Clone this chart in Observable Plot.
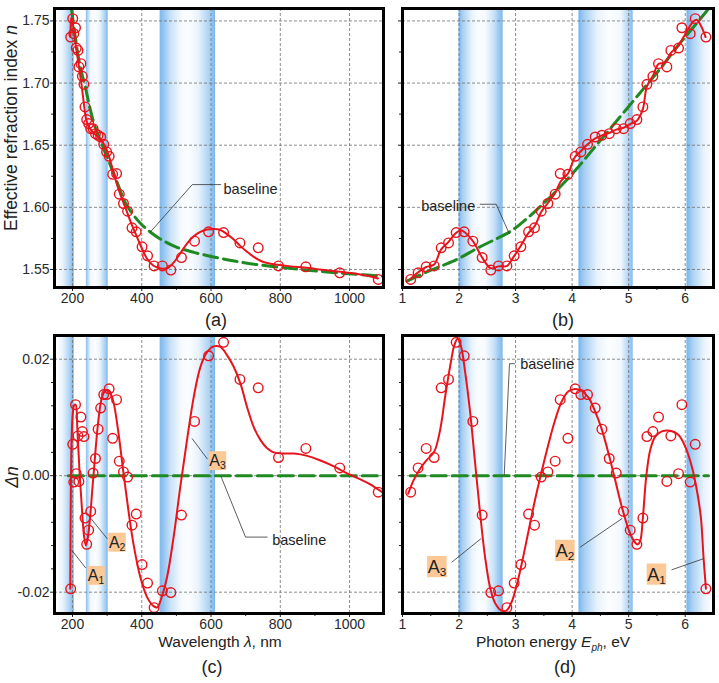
<!DOCTYPE html>
<html>
<head>
<meta charset="utf-8">
<script src="https://cdn.jsdelivr.net/npm/d3@7"></script>
<script src="https://cdn.jsdelivr.net/npm/@observablehq/plot@0.6"></script>
<style>
  html, body { margin: 0; padding: 0; background: #fff; }
  #fig { position: relative; width: 719px; height: 683px; overflow: hidden; font-family: "Liberation Sans", Arial, Helvetica, sans-serif; color: #222; }
  .panel { position: absolute; }
  .panel svg { display: block; }
  .lbl { position: absolute; white-space: nowrap; line-height: 1; transform: translate(-50%, -50%); }
  .rot { transform: translate(-50%, -50%) rotate(-90deg); }
  .cap { font-size: 18px; }
  .ttl { font-size: 15.5px; }
  .ytl { font-size: 17.5px; }
  .sub { font-size: 10px; position: relative; top: 4px; }
</style>
</head>
<body>
<div id="fig"></div>
<script>
// ---------------- data ----------------
// measured points: photon energy (eV), effective index n, deviation Δn
const ptE = [1.145,1.276,1.419,1.560,1.684,1.814,1.949,2.091,2.244,2.409,2.562,2.698,2.846,2.975,3.093,3.229,3.335,3.453,3.571,3.700,3.789,3.925,4.054,4.154,4.272,4.408,4.526,4.656,4.780,4.909,5.027,5.145,5.251,5.322,5.428,5.528,5.675,5.746,5.882,5.941,6.088,6.177,6.366];
const ptN = [1.542,1.5473,1.5521,1.5529,1.5674,1.5714,1.5797,1.5803,1.5728,1.5596,1.5495,1.5529,1.5529,1.561,1.5682,1.5803,1.5835,1.5969,1.6031,1.6106,1.6272,1.6266,1.6411,1.6446,1.6507,1.6566,1.658,1.6593,1.6633,1.6633,1.6674,1.6706,1.6808,1.699,1.7054,1.7156,1.713,1.7263,1.7282,1.7445,1.7397,1.7518,1.737];
const ptDn = [-0.00283,0.00133,0.00468,0.00312,0.01509,0.01653,0.02289,0.02058,0.00931,-0.00676,-0.02006,-0.01977,-0.02266,-0.01844,-0.01526,-0.00659,-0.0085,-0.00023,0.00064,0.00249,0.01306,0.00642,0.01491,0.01393,0.01393,0.01162,0.00798,0.00295,0.00046,-0.00613,-0.00936,-0.01179,-0.00728,0.00671,0.00757,0.01006,-0.00098,0.00682,0.00035,0.0122,-0.0011,0.00538,-0.01942];

// (a) fitted n(λ) and baseline
const fitA_L = [194,196.5,199.5,204,210.6,218,226,233,239.5,247,261.6,276,290.4,303,314.7,326,338.6,353,371.6,386,400.5,415,434,455,474,492,511,530.6,550,569,588.4,608,627,646,665.5,684.8,704,723.4,742.7,762,792,830,870,920,966,1020,1082];
const fitA_n = [1.737,1.7525,1.7505,1.741,1.728,1.7145,1.699,1.683,1.6705,1.665,1.6596,1.6562,1.651,1.643,1.632,1.6207,1.61,1.5995,1.5856,1.5763,1.5669,1.5588,1.553,1.5508,1.551,1.5555,1.5629,1.5709,1.5768,1.5803,1.5822,1.5826,1.5818,1.5784,1.5741,1.5688,1.5642,1.5602,1.557,1.5552,1.5538,1.5525,1.5515,1.5498,1.5483,1.5465,1.5428];
const baseA_L = [197,209,223,236,251,266,286,305,329,352,370,400,430,460,500,550,600,650,700,760,820,880,950,1020,1098];
const baseA_n = [1.76,1.735,1.712,1.698,1.679,1.664,1.65,1.637,1.62,1.604,1.596,1.586,1.579,1.5735,1.568,1.5638,1.5605,1.5577,1.5552,1.553,1.5511,1.5494,1.5476,1.5461,1.5446];

// (b) fitted n(E) and baseline
const fitB_E = [1.145,1.27,1.42,1.56,1.68,1.81,1.95,2.03,2.1,2.25,2.41,2.56,2.70,2.85,2.97,3.09,3.23,3.34,3.45,3.57,3.70,3.80,3.93,4.05,4.15,4.27,4.41,4.53,4.66,4.78,4.91,5.03,5.15,5.25,5.32,5.43,5.53,5.64,5.75,5.88,5.97,6.06,6.13,6.2,6.28,6.36];
const fitB_n = [1.5425,1.5475,1.552,1.554,1.566,1.572,1.5795,1.5815,1.58,1.5725,1.5595,1.551,1.5525,1.553,1.5605,1.569,1.5795,1.585,1.596,1.6035,1.6115,1.621,1.6275,1.6405,1.645,1.6505,1.6555,1.658,1.66,1.6625,1.664,1.667,1.670,1.679,1.697,1.706,1.7155,1.7165,1.7245,1.730,1.737,1.744,1.749,1.751,1.746,1.737];
const baseB_E = [1.08,1.43,1.725,2.0,2.315,2.61,2.905,3.2,3.494,3.789,4.084,4.379,4.673,4.968,5.263,5.558,5.853,6.147,6.413];
const baseB_n = [1.5406,1.5481,1.5535,1.559,1.5669,1.5736,1.5805,1.591,1.6031,1.6165,1.6312,1.6473,1.6633,1.6794,1.6955,1.7116,1.729,1.7451,1.7598];

// (c) fitted Δn(λ)
const fitC_L = [193.5,195,197.5,201,205,209,214,220,227,233,238.5,244,251,257,263.6,270,277,284,292,300,306,313,320,333,347.5,362,376,395.7,415,434,445,455,473,492,511,530.6,550,569,588.4,608,627,646,665.5,685,704,723,743,762,781,810,840,878,916,955,993,1030,1060,1098];
const fitC_dn = [-0.0194,-0.004,0.0065,0.0108,0.0121,0.0122,0.008,0.001,-0.0055,-0.0102,-0.012,-0.0107,-0.007,-0.0025,0.0022,0.0068,0.0106,0.0132,0.0144,0.0147,0.0145,0.0137,0.0122,0.0072,0.0003,-0.0062,-0.0117,-0.0174,-0.0208,-0.0224,-0.0226,-0.0213,-0.0174,-0.0105,-0.002,0.0061,0.0135,0.0186,0.0212,0.0222,0.0221,0.0207,0.0187,0.0158,0.0118,0.0084,0.0061,0.0047,0.004,0.0038,0.0038,0.0034,0.0026,0.0016,0.0004,-0.0006,-0.0015,-0.003];
const baseC_L = [188,1098], baseC_dn = [0,0];

// (d) fitted Δn(E)
const fitD_E = [1.10,1.195,1.312,1.43,1.56,1.666,1.755,1.843,1.914,1.973,2.032,2.109,2.197,2.285,2.374,2.462,2.551,2.639,2.757,2.846,2.934,3.022,3.111,3.229,3.347,3.465,3.583,3.70,3.818,3.936,4.054,4.172,4.29,4.408,4.526,4.644,4.762,4.88,4.998,5.086,5.157,5.204,5.251,5.31,5.381,5.469,5.587,5.735,5.882,6.0,6.118,6.206,6.277,6.324,6.366];
const fitD_dn = [-0.0031,-0.0008,0.0012,0.0027,0.0041,0.0079,0.0136,0.0188,0.0223,0.0235,0.0223,0.0177,0.0108,0.0021,-0.0066,-0.0141,-0.0193,-0.0219,-0.0232,-0.0231,-0.0216,-0.0187,-0.015,-0.0095,-0.004,0.0009,0.0055,0.0096,0.0128,0.0145,0.0149,0.0145,0.0134,0.011,0.0079,0.0038,-0.0008,-0.0054,-0.0092,-0.0111,-0.0118,-0.0112,-0.0072,-0.0002,0.0044,0.0067,0.0076,0.0077,0.007,0.005,0.0015,-0.0025,-0.0072,-0.0141,-0.0194];
const baseD_E = [1.136,6.41], baseD_dn = [0,0];

// absorption bands
const bandE_lo = [2.0, 4.12, 6.03], bandE_hi = [2.78, 5.08, 6.47];
const bandL_lo = [160, 240, 453], bandL_hi = [205, 303, 613];

// ticks
const tickL = [200,400,600,800,1000], tickLminor = [300,500,700,900];
const tickE = [1,2,3,4,5,6], tickEminor = [1.5,2.5,3.5,4.5,5.5];
const gridE = [2,3,4,5,6];
const tickN = [1.55,1.60,1.65,1.70,1.75], tickNminor = [1.575,1.625,1.675,1.725];
const tickDn = [-0.02,0,0.02], tickDnMinor = [-0.016,-0.012,-0.008,-0.004,0.004,0.008,0.012,0.016];

// annotations
const annA_txt = ["baseline"], annA_x = [636], annA_y = [1.6145];
const leadA_x = [628,545.7,425], leadA_y = [1.6183,1.6183,1.5802];
const annB_txt = ["baseline"], annB_x = [2.286], annB_y = [1.6011];
const leadB_x = [2.374,2.657,2.887], leadB_y = [1.6025,1.6025,1.5789];
const annC_txt = ["baseline"], annC_x = [776.7], annC_y = [-0.01116];
const leadC_x = [762,699.6,629.5], leadC_y = [-0.01054,-0.01054,-0.00024];
const annD_txt = ["baseline"], annD_x = [3.082], annD_y = [0.01906];
const leadD_x = [2.981,2.892,2.799], leadD_y = [0.01923,0.01923,0.00017];
const labC_x = [269,330,620], labC_y = [-0.0172,-0.0115,0.0025], labC_sub = ["1","2","3"];
const labC_lead = [[[237.5,198],[-0.0158,-0.0128]], [[300,254],[-0.0108,-0.0074]], [[589,545.7],[0.0029,0.00635]]];
const labD_x = [5.499,3.881,1.617], labD_y = [-0.01698,-0.01291,-0.01569], labD_sub = ["1","2","3"];
const labD_lead = [[[5.765,6.324],[-0.01614,-0.01425]], [[4.143,4.88],[-0.01226,-0.00738]], [[1.874,2.387],[-0.01483,-0.01082]]];

// ---------------- styling ----------------
const RED = "#e8141c", GREEN = "#1f8a22", BAND = "#66acea", GRID = "#707070", INK = "#222";
const FONT = '"Liberation Sans", Arial, Helvetica, sans-serif';
const HC = 1239.84;
const ptL = ptE.map(e => HC / e);

const stopsE = [
  [[0,0.9],[0.08,0.6],[0.3,0.15],[0.45,0.03],[0.6,0.05],[0.8,0.35],[0.93,0.7],[1,0.85]],
  [[0,0.9],[0.1,0.6],[0.35,0.15],[0.55,0.02],[0.78,0.08],[0.9,0.45],[1,0.8]],
  [[0,0.9],[0.25,0.55],[0.7,0.15],[1,0.03]]
];
const stopsL = [
  [[0,0.03],[0.3,0.15],[0.75,0.55],[1,0.9]],
  [[0,0.8],[0.1,0.45],[0.22,0.08],[0.45,0.02],[0.65,0.15],[0.9,0.6],[1,0.9]],
  [[0,0.85],[0.07,0.7],[0.2,0.35],[0.4,0.05],[0.55,0.03],[0.7,0.15],[0.92,0.6],[1,0.9]]
];

function gradient(id, stops) {
  return () => {
    const defs = d3.create("svg:defs");
    const g = defs.append("linearGradient").attr("id", id)
      .attr("x1", 0).attr("x2", 1).attr("y1", 0).attr("y2", 0);
    for (const [o, a] of stops) g.append("stop").attr("offset", o).attr("stop-color", BAND).attr("stop-opacity", a);
    return defs.node();
  };
}
function bands(prefix, lo, hi, stops) {
  const m = [];
  lo.forEach((l, i) => {
    const id = prefix + i;
    m.push(gradient(id, stops[i]));
    m.push(Plot.rect([0], {x1: [l], x2: [hi[i]], fill: `url(#${id})`}));
  });
  return m;
}
function boxLabels(xs, ys, subs, fs) {
  return (index, scales) => {
    const g = d3.create("svg:g").attr("font-family", FONT).attr("text-anchor", "start");
    xs.forEach((xv, i) => {
      const cx = scales.x(xv), cy = scales.y(ys[i]);
      const w = 1.03 * fs + 1, h = 1.18 * fs;
      g.append("rect").attr("x", cx - w / 2).attr("y", cy - h / 2)
        .attr("width", w).attr("height", h).attr("fill", "#fbc896");
      const t = g.append("text").attr("x", cx - w / 2 + 0.6).attr("y", cy + 0.36 * fs)
        .attr("font-size", fs).attr("fill", INK).attr("text-anchor", "start");
      t.append("tspan").text("A");
      t.append("tspan").attr("font-size", 0.65 * fs).attr("dy", 0.17 * fs).text(subs[i]);
    });
    return g.node();
  };
}
const lead = (xs, ys) => Plot.line(xs, {x: xs, y: ys, stroke: "#333", strokeWidth: 0.8});
const gridOpts = {stroke: GRID, strokeOpacity: 1, strokeWidth: 0.8, strokeDasharray: "3,2"};
const axisFont = {fontSize: 14, fill: "#2a2a2a"};

const fig = document.getElementById("fig");
function panel(left, top, w, h, m, xd, yd, marks) {
  const svg = Plot.plot({
    width: w, height: h,
    marginLeft: m[0], marginRight: m[1], marginTop: m[2], marginBottom: m[3],
    x: {domain: xd}, y: {domain: yd},
    style: {fontFamily: FONT, fontSize: "14px", color: INK, background: "transparent", overflow: "visible"},
    marks
  });
  const div = document.createElement("div");
  div.className = "panel";
  div.style.left = left + "px"; div.style.top = top + "px";
  div.appendChild(svg);
  fig.appendChild(div);
}
const lDom = [148, 1098], eDom = [1, 6.5], nDom = [1.5355, 1.76], dDom = [-0.02366, 0.02407];
const mL = [54, 3, 8, 23], mE = [22, 6, 8, 23], mLc = [54, 3, 9, 23], mEd = [22, 6, 9, 23];

// (a)
panel(0, 0, 386, 310, mL, lDom, nDom, [
  ...bands("gA", bandL_lo, bandL_hi, stopsL),
  Plot.gridX({ticks: tickL, ...gridOpts}),
  Plot.gridY({ticks: tickN, ...gridOpts}),
  Plot.line(baseA_L, {x: baseA_L, y: baseA_n, stroke: GREEN, strokeWidth: 3, strokeDasharray: "14,6", curve: "catmull-rom", clip: true}),
  Plot.line(fitA_L, {x: fitA_L, y: fitA_n, stroke: RED, strokeWidth: 2, curve: "catmull-rom", clip: true}),
  Plot.dot(ptL, {x: ptL, y: ptN, r: 4.8, stroke: RED, strokeWidth: 1.4, fill: "none", clip: true}),
  lead(leadA_x, leadA_y),
  Plot.text(annA_txt, {x: annA_x, y: annA_y, text: d => d, textAnchor: "start", fontSize: 14.5, fill: INK}),
  Plot.axisX({ticks: tickL, tickSize: 4, tickPadding: 2, tickFormat: d => String(d), label: null, ...axisFont}),
  Plot.axisX({ticks: tickLminor, tickSize: 3, tickFormat: () => "", label: null}),
  Plot.axisY({ticks: tickN, tickSize: 4, tickPadding: 1, tickFormat: d => d.toFixed(2), label: null, ...axisFont}),
  Plot.axisY({ticks: tickNminor, tickSize: 3, tickFormat: () => "", label: null}),
  Plot.frame({stroke: "#000", strokeWidth: 3})
]);

// (b)
panel(380, 0, 339, 310, mE, eDom, nDom, [
  ...bands("gB", bandE_lo, bandE_hi, stopsE),
  Plot.gridX({ticks: gridE, ...gridOpts}),
  Plot.gridY({ticks: tickN, ...gridOpts}),
  Plot.line(baseB_E, {x: baseB_E, y: baseB_n, stroke: GREEN, strokeWidth: 3, strokeDasharray: "14,6", curve: "catmull-rom", clip: true}),
  Plot.line(fitB_E, {x: fitB_E, y: fitB_n, stroke: RED, strokeWidth: 2, curve: "catmull-rom", clip: true}),
  Plot.dot(ptE, {x: ptE, y: ptN, r: 4.8, stroke: RED, strokeWidth: 1.4, fill: "none", clip: true}),
  lead(leadB_x, leadB_y),
  Plot.text(annB_txt, {x: annB_x, y: annB_y, text: d => d, textAnchor: "end", fontSize: 14.5, fill: INK}),
  Plot.axisX({ticks: tickE, tickSize: 4, tickPadding: 2, tickFormat: d => String(d), label: null, ...axisFont}),
  Plot.axisX({ticks: tickEminor, tickSize: 3, tickFormat: () => "", label: null}),
  Plot.axisY({ticks: tickN, tickSize: 4, tickFormat: () => "", label: null}),
  Plot.axisY({ticks: tickNminor, tickSize: 3, tickFormat: () => "", label: null}),
  Plot.frame({stroke: "#000", strokeWidth: 3})
]);

// (c)
panel(0, 326, 386, 310, mLc, lDom, dDom, [
  ...bands("gC", bandL_lo, bandL_hi, stopsL),
  Plot.gridX({ticks: tickL, ...gridOpts}),
  Plot.gridY({ticks: tickDn, ...gridOpts}),
  Plot.line(baseC_L, {x: baseC_L, y: baseC_dn, stroke: GREEN, strokeWidth: 3, strokeDasharray: "15,6", clip: true}),
  Plot.line(fitC_L, {x: fitC_L, y: fitC_dn, stroke: RED, strokeWidth: 2, curve: "catmull-rom", clip: true}),
  Plot.dot(ptL, {x: ptL, y: ptDn, r: 4.8, stroke: RED, strokeWidth: 1.4, fill: "none", clip: true}),
  lead(leadC_x, leadC_y),
  ...labC_lead.map(([xs, ys]) => lead(xs, ys)),
  Plot.text(annC_txt, {x: annC_x, y: annC_y, text: d => d, textAnchor: "start", fontSize: 14.5, fill: INK}),
  boxLabels(labC_x, labC_y, labC_sub, 16),
  Plot.axisX({ticks: tickL, tickSize: 4, tickPadding: 2, tickFormat: d => String(d), label: null, ...axisFont}),
  Plot.axisX({ticks: tickLminor, tickSize: 3, tickFormat: () => "", label: null}),
  Plot.axisY({ticks: tickDn, tickSize: 4, tickPadding: 1, tickFormat: d => d.toFixed(2), label: null, ...axisFont}),
  Plot.axisY({ticks: tickDnMinor, tickSize: 3, tickFormat: () => "", label: null}),
  Plot.frame({stroke: "#000", strokeWidth: 3})
]);

// (d)
panel(380, 326, 339, 310, mEd, eDom, dDom, [
  ...bands("gD", bandE_lo, bandE_hi, stopsE),
  Plot.gridX({ticks: gridE, ...gridOpts}),
  Plot.gridY({ticks: tickDn, ...gridOpts}),
  Plot.line(baseD_E, {x: baseD_E, y: baseD_dn, stroke: GREEN, strokeWidth: 3, strokeDasharray: "15,6", clip: true}),
  Plot.line(fitD_E, {x: fitD_E, y: fitD_dn, stroke: RED, strokeWidth: 2, curve: "catmull-rom", clip: true}),
  Plot.dot(ptE, {x: ptE, y: ptDn, r: 4.8, stroke: RED, strokeWidth: 1.4, fill: "none", clip: true}),
  lead(leadD_x, leadD_y),
  ...labD_lead.map(([xs, ys]) => lead(xs, ys)),
  Plot.text(annD_txt, {x: annD_x, y: annD_y, text: d => d, textAnchor: "start", fontSize: 14.5, fill: INK}),
  boxLabels(labD_x, labD_y, labD_sub, 18),
  Plot.axisX({ticks: tickE, tickSize: 4, tickPadding: 2, tickFormat: d => String(d), label: null, ...axisFont}),
  Plot.axisX({ticks: tickEminor, tickSize: 3, tickFormat: () => "", label: null}),
  Plot.axisY({ticks: tickDn, tickSize: 4, tickFormat: () => "", label: null}),
  Plot.axisY({ticks: tickDnMinor, tickSize: 3, tickFormat: () => "", label: null}),
  Plot.frame({stroke: "#000", strokeWidth: 3})
]);

// titles and captions
const texts = [
  ["Effective refraction index <i>n</i>", 12, 128, "ytl rot"],
  ["<i>Δn</i>", 13, 477, "ytl rot"],
  ["Wavelength <i>λ</i>, nm", 220, 642, "ttl"],
  ["Photon energy <i>E<span class=\"sub\">ph</span></i>, eV", 553, 642, "ttl"],
  ["(a)", 216, 320, "cap"],
  ["(b)", 563, 320, "cap"],
  ["(c)", 212, 667, "cap"],
  ["(d)", 565, 667, "cap"]
];
for (const [html, x, y, cls] of texts) {
  const d = document.createElement("div");
  d.className = "lbl " + cls;
  d.innerHTML = html;
  d.style.left = x + "px"; d.style.top = y + "px";
  fig.appendChild(d);
}
</script>
</body>
</html>
